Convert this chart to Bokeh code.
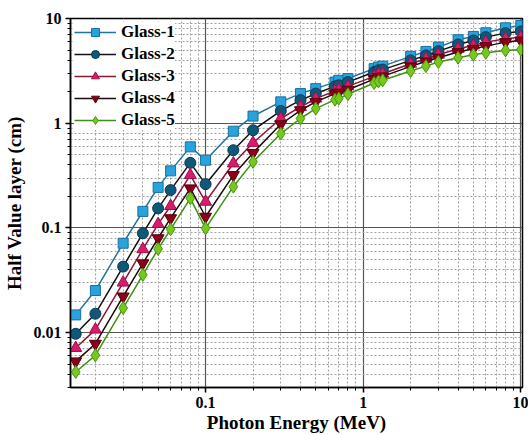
from bokeh.plotting import figure
from bokeh.models import Range1d, FixedTicker, Legend, LegendItem
from bokeh.embed import file_html
from bokeh.resources import INLINE

# Photon energies (MeV)
energy = [0.015, 0.02, 0.03, 0.04, 0.05, 0.06, 0.08, 0.1, 0.15, 0.2, 0.3, 0.4,
          0.5, 0.662, 0.7, 0.8, 1.173, 1.25, 1.33, 2, 2.5, 3, 4, 5, 6, 8, 10]

# Half value layer (cm) for each glass sample
hvl_glass1 = [0.0148, 0.0253, 0.0715, 0.144, 0.244, 0.351, 0.595, 0.444, 0.84, 1.17,
              1.60, 1.92, 2.14, 2.47, 2.57, 2.67, 3.32, 3.44, 3.51, 4.35, 4.85, 5.33,
              6.27, 6.74, 7.31, 8.15, 8.58]
hvl_glass2 = [0.00977, 0.0152, 0.0428, 0.089, 0.154, 0.23, 0.419, 0.262, 0.553, 0.858,
              1.31, 1.66, 1.92, 2.25, 2.30, 2.47, 3.08, 3.20, 3.25, 3.98, 4.44, 4.88,
              5.65, 6.17, 6.64, 7.25, 7.52]
hvl_glass3 = [0.00715, 0.0107, 0.0301, 0.0627, 0.109, 0.162, 0.32, 0.178, 0.413, 0.65,
              1.11, 1.43, 1.72, 2.03, 2.09, 2.25, 2.80, 2.93, 2.97, 3.70, 4.13, 4.51,
              5.14, 5.53, 5.95, 6.40, 6.64]
hvl_glass4 = [0.00533, 0.00785, 0.0222, 0.046, 0.0798, 0.124, 0.239, 0.128, 0.32, 0.521,
              0.978, 1.33, 1.60, 1.92, 1.96, 2.09, 2.64, 2.76, 2.80, 3.49, 3.89, 4.22,
              4.78, 5.14, 5.45, 5.95, 6.17]
hvl_glass5 = [0.00422, 0.00608, 0.0172, 0.0357, 0.063, 0.0972, 0.192, 0.0993, 0.248, 0.428,
              0.797, 1.11, 1.38, 1.68, 1.72, 1.89, 2.42, 2.51, 2.57, 3.15, 3.51, 3.84,
              4.22, 4.51, 4.71, 4.96, 5.03]

labels = ["Glass-1", "Glass-2", "Glass-3", "Glass-4", "Glass-5"]
series = [hvl_glass1, hvl_glass2, hvl_glass3, hvl_glass4, hvl_glass5]

styles = [
    dict(marker="square", size=10, fill="#29a3dd", edge="#1a6fa0", line="#23729f"),
    dict(marker="circle", size=11, fill="#0f5878", edge="#08384e", line="#111111"),
    dict(marker="triangle", size=12, fill="#d81b6a", edge="#9e0f4c", line="#8b1538"),
    dict(marker="inverted_triangle", size=12, fill="#8b0016", edge="#55000e", line="#1a0a0a"),
    dict(marker="diamond", size=13, fill="#74c81e", edge="#4a9410", line="#3f8f14"),
]

FONT = "Liberation Serif"

p = figure(width=528, height=435, x_axis_type="log", y_axis_type="log",
           x_range=Range1d(0.0139, 10.25), y_range=Range1d(0.003, 10),
           output_backend="svg", toolbar_location=None,
           min_border_left=70, min_border_right=6, min_border_top=18,
           min_border_bottom=48)

p.outline_line_color = "black"
p.outline_line_width = 1.5
p.background_fill_color = "white"
p.border_fill_color = "white"

x_minor = [m * 10 ** e for e in (-2, -1, 0) for m in range(2, 10)]
y_minor = [m * 10 ** e for e in (-3, -2, -1, 0) for m in range(2, 10)]
p.xaxis.ticker = FixedTicker(ticks=[0.01, 0.1, 1, 10], minor_ticks=x_minor)
p.yaxis.ticker = FixedTicker(ticks=[0.01, 0.1, 1, 10], minor_ticks=y_minor)
p.xaxis.major_label_overrides = {0.1: "0.1", 1: "1", 10: "10", 0.01: "0.01"}
p.yaxis.major_label_overrides = {0.01: "0.01", 0.1: "0.1", 1: "1", 10: "10"}

for ax in (p.xaxis, p.yaxis):
    ax.axis_line_color = "black"
    ax.axis_line_width = 1.5
    ax.major_tick_line_color = "black"
    ax.minor_tick_line_color = "black"
    ax.major_tick_line_width = 1.5
    ax.major_tick_out = 5
    ax.major_tick_in = 0
    ax.minor_tick_out = 3
    ax.minor_tick_in = 0
    ax.major_label_text_font = FONT
    ax.major_label_text_font_style = "bold"
    ax.major_label_text_font_size = "16px"
    ax.major_label_text_color = "black"
    ax.axis_label_text_font = FONT
    ax.axis_label_text_font_style = "bold"
    ax.axis_label_text_font_size = "19px"
    ax.axis_label_text_color = "black"

p.xaxis.axis_label = "Photon Energy (MeV)"
p.yaxis.axis_label = "Half Value layer (cm)"
p.xaxis.axis_label_standoff = 1
p.yaxis.axis_label_standoff = 6
p.xaxis.major_label_standoff = 4
p.yaxis.major_label_standoff = 4

for g in (p.xgrid, p.ygrid):
    g.grid_line_color = "#555555"
    g.grid_line_width = 1.2
    g.minor_grid_line_color = "#a0a0a0"
    g.minor_grid_line_dash = "2 2"
    g.minor_grid_line_width = 1

items = []
for lab, ys, st in zip(labels, series, styles):
    ln = p.line(energy, ys, line_color=st["line"], line_width=1.5)
    sc = p.scatter(energy, ys, marker=st["marker"], size=st["size"],
                   fill_color=st["fill"], line_color=st["edge"], line_width=1)
    items.append(LegendItem(label=lab, renderers=[ln, sc]))

legend = Legend(items=items, location="top_left")
legend.label_text_font = FONT
legend.label_text_font_style = "bold"
legend.label_text_font_size = "17px"
legend.label_text_color = "black"
legend.border_line_color = None
legend.background_fill_color = "white"
legend.background_fill_alpha = 1.0
legend.glyph_width = 42
legend.glyph_height = 20
legend.label_height = 20
legend.spacing = 2
legend.padding = 4
legend.margin = 4
legend.label_standoff = 5
p.add_layout(legend)

open("out.html", "w").write(file_html(p, INLINE))
